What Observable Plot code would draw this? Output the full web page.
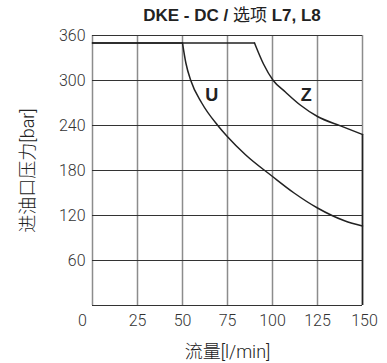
<!DOCTYPE html>
<html>
<head>
<meta charset="utf-8">
<script src="https://cdn.jsdelivr.net/npm/d3@7"></script>
<script src="https://cdn.jsdelivr.net/npm/@observablehq/plot@0.6"></script>
<style>
  html, body { margin: 0; padding: 0; background: #fff; }
  #wrap { position: relative; width: 387px; height: 363px; }
  #title { position: absolute; top: 6px; left: 92px; width: 280px; text-align: center; white-space: nowrap;
           font-family: "Liberation Sans", Arial, "Noto Sans CJK SC", sans-serif; font-size: 17px; line-height: 20px; color: #222; }
  #title b { font-weight: bold; }
  #title span { font-weight: normal; }
</style>
</head>
<body>
<div id="wrap">
  <div id="chart"></div>
  <div id="title"><b>DKE - DC / </b><span>选项</span><b> L7, L8</b></div>
</div>
<script>
const xTicks = [0, 25, 50, 75, 100, 125, 150];
const yTicks = [60, 120, 180, 240, 300, 360];

// Curve U
const uFlow =     [0,   50,  51.9, 54.6, 60.7, 69.6, 75,  85,  100, 112, 125, 140, 150];
const uPressure = [350, 350, 323,  300,  270,  240,  225, 201, 172, 150, 130, 113, 106];

// Curve Z
const zFlow =     [0,   90,  95,  100.4, 107, 115.6, 125, 137.8, 150];
const zPressure = [350, 350, 322, 300,   285, 267,   252, 239.5, 228];

const curveLabels = ["U", "Z"];
const labelFlow = [66.3, 118.7];
const labelPressure = [280, 280];

const U = uFlow.map((x, i) => ({x, y: uPressure[i]}));
const Z = zFlow.map((x, i) => ({x, y: zPressure[i]}));
const zEnd = Z[Z.length - 1];
const labels = curveLabels.map((t, i) => ({t, x: labelFlow[i], y: labelPressure[i]}));

const font = "Roboto, 'Liberation Sans', Arial, 'Noto Sans CJK SC', sans-serif";
const tickStyle = {tickSize: 0, label: null, fontSize: 16, fontWeight: 300, fill: "#333"};
const lineStyle = {x: "x", y: "y", stroke: "#222", strokeWidth: 1.5};

const chart = Plot.plot({
  width: 387,
  height: 363,
  marginLeft: 92,
  marginRight: 25,
  marginTop: 35,
  marginBottom: 58,
  x: {domain: [0, 150]},
  y: {domain: [0, 360]},
  style: {fontFamily: font, fontSize: "16px", color: "#333", background: "#fff"},
  marks: [
    Plot.ruleX(xTicks, {stroke: "#8c8c8c", strokeWidth: 1.5}),
    Plot.ruleY([0, ...yTicks], {stroke: "#333", strokeWidth: 1.2}),
    // flat pressure-limited segments
    Plot.line(U.slice(0, 2), lineStyle),
    Plot.line(Z.slice(0, 2), lineStyle),
    // power-limited curves
    Plot.line(U.slice(1), {...lineStyle, curve: "monotone-x"}),
    Plot.line(Z.slice(1), {...lineStyle, curve: "monotone-x"}),
    Plot.ruleX([zEnd], {x: "x", y1: 0, y2: "y", stroke: "#222", strokeWidth: 1.6}),
    Plot.text(labels, {x: "x", y: "y", text: "t", fontFamily: "'Liberation Sans', Arial, sans-serif", fontWeight: "bold", fontSize: 18, fill: "#222"}),
    Plot.axisY({ticks: yTicks, tickPadding: 7, ...tickStyle}),
    Plot.axisX({ticks: xTicks.slice(1, -1), tickPadding: 9, ...tickStyle}),
    Plot.axisX({ticks: [xTicks[0]], tickPadding: 9, dx: -10, ...tickStyle}),
    Plot.axisX({ticks: [xTicks[xTicks.length - 1]], tickPadding: 9, dx: 2, ...tickStyle}),
    Plot.text(["进油口压力[bar]"], {frameAnchor: "left", dx: -64, rotate: -90, textAnchor: "middle", lineAnchor: "middle", fontSize: 18, fontWeight: 300, fill: "#222"}),
    Plot.text(["流量[l/min]"], {frameAnchor: "bottom", dy: 47, textAnchor: "middle", lineAnchor: "middle", fontSize: 18, fontWeight: 300, fill: "#222"})
  ]
});
document.getElementById("chart").appendChild(chart);
</script>
</body>
</html>
